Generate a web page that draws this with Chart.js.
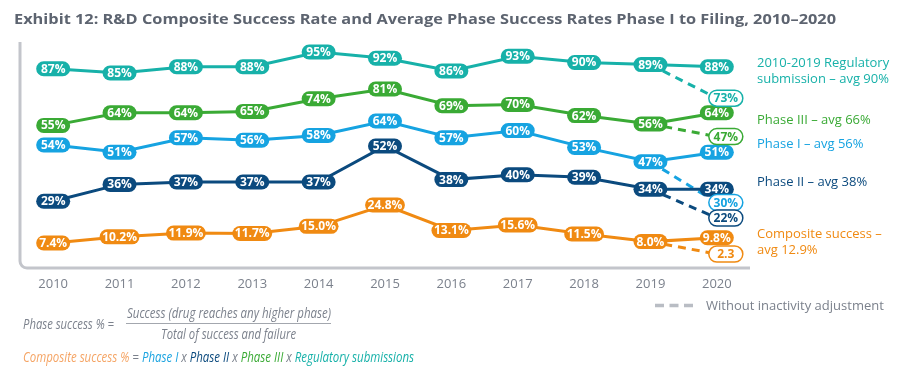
<!DOCTYPE html>
<html><head><meta charset="utf-8">
<script src="https://cdn.jsdelivr.net/npm/chart.js@4.4.0/dist/chart.umd.min.js"></script>
<style>
html,body{margin:0;padding:0;background:#fff;}
body{width:908px;height:379px;position:relative;overflow:hidden;font-family:"Open Sans",sans-serif;}
canvas{position:absolute;left:0;top:0;}
.t{position:absolute;white-space:nowrap;transform-origin:left top;}
.r{font-size:13px;line-height:16px;}
.f{font-size:14px;line-height:18px;font-style:italic;color:#7b818c;}
</style></head><body>
<canvas id="c" width="908" height="379"></canvas>
<div class="t" data-w="822" style="left:14px;top:8px;font-size:15px;line-height:20px;font-weight:700;color:#5d6470;">Exhibit 12: R&amp;D Composite Success Rate and Average Phase Success Rates Phase I to Filing, 2010–2020</div>
<div class="t r" style="left:757px;top:54px;color:#17b1a9;">2010-2019 Regulatory<br>submission – avg 90%</div>
<div class="t r" style="left:757px;top:111px;color:#3aaa35;">Phase III – avg 66%</div>
<div class="t r" style="left:757px;top:135px;color:#16a3e1;">Phase I – avg 56%</div>
<div class="t r" style="left:757px;top:173px;color:#0b4a7e;">Phase II – avg 38%</div>
<div class="t r" style="left:757px;top:226px;line-height:15.5px;color:#f08a12;">Composite success –<br>avg 12.9%</div>
<div class="t r" style="left:706px;top:297px;color:#7b818c;">Without inactivity adjustment</div>
<div class="t f" data-w="91" style="left:23px;top:315px;">Phase success % =</div>
<div class="t f" data-w="204" style="left:127px;top:304px;">Success (drug reaches any higher phase)</div>
<div style="position:absolute;left:126px;top:323px;width:205px;height:1px;background:#a3a7ae;"></div>
<div class="t f" data-w="135" style="left:161px;top:325px;">Total of success and failure</div>
<div class="t f" data-w="391" style="left:23px;top:348px;"><span style="color:#f5a464">Composite success %</span> = <span style="color:#1aa3e0">Phase I</span> x <span style="color:#0b4a7e">Phase II</span> x <span style="color:#3aaa35">Phase III</span> x <span style="color:#17b1a9">Regulatory submissions</span></div>
<script>
// ---- data ----
const years = ['2010','2011','2012','2013','2014','2015','2016','2017','2018','2019','2020'];
const regulatory = [87, 85, 88, 88, 95, 92, 86, 93, 90, 89, 88];
const phase3 = [55, 64, 64, 65, 74, 81, 69, 70, 62, 56, 64];
const phase1 = [54, 51, 57, 56, 58, 64, 57, 60, 53, 47, 51];
const phase2 = [29, 36, 37, 37, 37, 52, 38, 40, 39, 34, 34];
const composite = [7.4, 10.2, 11.9, 11.7, 15.0, 24.8, 13.1, 15.6, 11.5, 8.0, 9.8];
// 2020 values without inactivity adjustment
const regulatoryNoAdj2020 = 73;
const phase3NoAdj2020 = 47;
const phase1NoAdj2020 = 30;
const phase2NoAdj2020 = 22;
const compositeNoAdj2020 = 2.3;

// fit text widths
document.querySelectorAll('[data-w]').forEach(el => {
  const w = el.getBoundingClientRect().width;
  el.style.transform = 'scaleX(' + (+el.dataset.w / w) + ')';
});

const C = {reg:'#17b1a9', p3:'#3aaa35', p1:'#16a3e1', p2:'#0b4a7e', comp:'#f08a12'};
const pct = v => Math.round(v) + '%';
const pct1 = v => v.toFixed(1) + '%';

function dashedFrom(series, v2020) {
  return series.map((v, i) => i === series.length - 2 ? v : (i === series.length - 1 ? v2020 : null));
}
function solid(data, color, axis, fmt) {
  return {data, borderColor: color, borderWidth: 3, pointRadius: 0, yAxisID: axis, fill: false, tension: 0, _fmt: fmt};
}
function dashed(data, color, axis, fmt) {
  return {data, borderColor: color, borderWidth: 3, borderDash: [8, 6], pointRadius: 0, yAxisID: axis, fill: false, tension: 0, spanGaps: false, _fmt: fmt, _dashed: true};
}

const datasets = [
  solid(regulatory, C.reg, 'yReg', pct),
  solid(phase3, C.p3, 'yP3', pct),
  solid(phase1, C.p1, 'yP1', pct),
  solid(phase2, C.p2, 'yP2', pct),
  solid(composite, C.comp, 'yComp', pct1),
  dashed(dashedFrom(regulatory, regulatoryNoAdj2020), C.reg, 'yReg', pct),
  dashed(dashedFrom(phase3, phase3NoAdj2020), C.p3, 'yP3', pct),
  dashed(dashedFrom(phase1, phase1NoAdj2020), C.p1, 'yP1', pct),
  dashed(dashedFrom(phase2, phase2NoAdj2020), C.p2, 'yP2', pct),
  dashed(dashedFrom(composite, compositeNoAdj2020), C.comp, 'yComp', v => v.toFixed(1))
];

function rr(ctx, x, y, w, h, r) {
  ctx.beginPath();
  ctx.moveTo(x + r, y);
  ctx.lineTo(x + w - r, y);
  ctx.arc(x + w - r, y + r, r, -Math.PI / 2, Math.PI / 2);
  ctx.lineTo(x + r, y + h);
  ctx.arc(x + r, y + r, r, Math.PI / 2, Math.PI * 1.5);
  ctx.closePath();
}

const framePlugin = {
  id: 'frame',
  beforeDatasetsDraw(chart) {
    const {ctx, chartArea: a} = chart;
    ctx.save();
    ctx.strokeStyle = '#c3c5cb';
    ctx.lineWidth = 3;
    const r = 7;
    ctx.beginPath();
    ctx.moveTo(a.left, a.top);
    ctx.lineTo(a.left, a.bottom - r);
    ctx.arcTo(a.left, a.bottom, a.left + r, a.bottom, r);
    ctx.lineTo(a.right, a.bottom);
    ctx.stroke();
    // legend dash sample
    ctx.strokeStyle = '#b9bdc4';
    ctx.lineWidth = 3.5;
    ctx.setLineDash([9, 5.5]);
    ctx.beginPath();
    ctx.moveTo(655, 305.5);
    ctx.lineTo(697, 305.5);
    ctx.stroke();
    ctx.restore();
  }
};

const pillPlugin = {
  id: 'pills',
  afterDatasetsDraw(chart) {
    const ctx = chart.ctx;
    ctx.save();
    ctx.font = 'bold 12px "Open Sans"';
    ctx.textAlign = 'center';
    ctx.textBaseline = 'middle';
    chart.data.datasets.forEach((ds, di) => {
      const meta = chart.getDatasetMeta(di);
      meta.data.forEach((pt, i) => {
        const v = ds.data[i];
        if (v === null || v === undefined) return;
        if (ds._dashed && i !== ds.data.length - 1) return;
        const text = ds._fmt(v);
        const tw = ctx.measureText(text).width;
        const x = pt.x + (ds._dashed ? 9 : 0), y = pt.y;
        if (ds._dashed) {
          const w = Math.max(34, tw + 8), h = 16;
          rr(ctx, x - w / 2, y - h / 2, w, h, h / 2);
          ctx.fillStyle = '#fff'; ctx.fill();
          ctx.lineWidth = 1.5; ctx.strokeStyle = ds.borderColor; ctx.stroke();
          ctx.fillStyle = ds.borderColor;
        } else {
          const w = Math.max(34, tw + 5), h = 15;
          rr(ctx, x - w / 2, y - h / 2, w, h, h / 2);
          ctx.fillStyle = ds.borderColor; ctx.fill();
          ctx.fillStyle = '#fff';
        }
        ctx.fillText(text, x, y + 0.5);
      });
    });
    ctx.restore();
  }
};

const hiddenY = (min, max) => ({type: 'linear', display: false, min, max});

new Chart(document.getElementById('c'), {
  type: 'line',
  data: {labels: years, datasets},
  options: {
    responsive: false,
    animation: false,
    events: [],
    layout: {padding: {left: 20, right: 158, top: 42, bottom: 81}},
    plugins: {legend: {display: false}, tooltip: {enabled: false}},
    scales: {
      x: {
        type: 'category', offset: true,
        grid: {display: false, drawTicks: false},
        border: {display: false},
        ticks: {color: '#7b818c', font: {family: 'Open Sans', size: 13}, padding: 8, maxRotation: 0, autoSkip: false},
        afterFit: s => { s.height = 30; }
      },
      yReg: hiddenY(-7.857, 99.762),
      yP3: hiddenY(-46.857, 114.571),
      yP1: hiddenY(2.75, 96.917),
      yP2: hiddenY(1.167, 95.333),
      yComp: hiddenY(-4.10, 99.57)
    }
  },
  plugins: [framePlugin, pillPlugin]
});
</script>
</body></html>
